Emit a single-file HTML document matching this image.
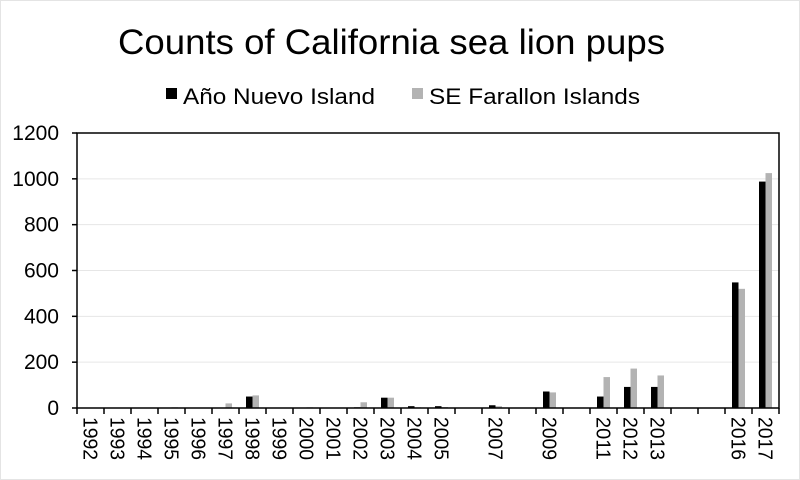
<!DOCTYPE html>
<html><head><meta charset="utf-8"><style>
body{margin:0;background:#fff}
svg{display:block;font-family:"Liberation Sans",Arial,sans-serif}
</style></head><body>
<svg id="chart" width="800" height="480">
<rect x="0.5" y="0.5" width="799" height="479" fill="#fff" stroke="#e4e4e4"/>
<text x="118" y="54" font-size="35" textLength="547" lengthAdjust="spacingAndGlyphs" fill="#000">Counts of California sea lion pups</text>
<g>
<g><rect x="166" y="88" width="11" height="11" fill="#000"/><text x="183" y="104" font-size="22" textLength="192" lengthAdjust="spacingAndGlyphs">Año Nuevo Island</text></g>
<g><rect x="412" y="88" width="11" height="11" fill="#b3b3b3"/><text x="429" y="104" font-size="22" textLength="211" lengthAdjust="spacingAndGlyphs">SE Farallon Islands</text></g>
</g>
<g id="grid"></g>
<g id="bars"></g>
<g id="axes"></g>
</svg>
<script>
const categories=["1992","1993","1994","1995","1996","1997","1998","1999","2000","2001","2002","2003","2004","2005","","2007","","2009","","2011","2012","2013","","","2016","2017"];
const anoNuevo=[0,0,0,0,0,0,50,0,2,0,3,45,8,8,0,12,0,72,0,50,92,92,0,0,548,988];
const farallon=[0,0,0,3,0,20,55,0,3,0,25,45,3,4,0,8,0,68,0,135,172,142,0,0,520,1025];
const yTicks=[0,200,400,600,800,1000,1200];
const NS="http://www.w3.org/2000/svg";
const L=77,R=779,T=133,B=408,yMax=1200;
const cw=(R-L)/categories.length;
function y(v){return B-v/yMax*(B-T);}
function xc(i){return L+cw*(i+0.5);}
function mk(tag,attrs,parent){const e=document.createElementNS(NS,tag);for(const k in attrs)e.setAttribute(k,attrs[k]);parent.appendChild(e);return e;}
const grid=document.getElementById('grid'),bars=document.getElementById('bars'),axes=document.getElementById('axes');
yTicks.forEach(t=>{
  if(t>0&&t<yMax){const g=mk('line',{x1:L,x2:R,y1:y(t),y2:y(t),stroke:'#e6e6e6','stroke-width':1},grid);
  
  }
  const tk=mk('line',{x1:L-5,x2:L,y1:y(t),y2:y(t),stroke:'#000','stroke-width':1.5},axes);
  
  
  const lb=mk('text',{x:L-18,y:y(t)+7,'font-size':21,'text-anchor':'end'},axes);
  lb.textContent=t;
  
  
});
const bw=6.5;
categories.forEach((c,i)=>{
  const a=mk('rect',{x:xc(i)-bw,y:y(anoNuevo[i]),width:bw,height:B-y(anoNuevo[i]),fill:'#000'},bars);
  
  
  const f=mk('rect',{x:xc(i),y:y(farallon[i]),width:bw,height:B-y(farallon[i]),fill:'#b3b3b3'},bars);
  
  
  if(c){const lb=mk('text',{x:0,y:0,'font-size':20,textLength:43,lengthAdjust:'spacingAndGlyphs',transform:'translate('+(xc(i)-7)+',417) rotate(90)'},axes);
  lb.textContent=c;
  
  }
});
for(let i=0;i<=categories.length;i++){
  const t=mk('line',{x1:L+cw*i,x2:L+cw*i,y1:B,y2:B+6,stroke:'#000','stroke-width':1.5},axes);
  
  
}
const frame=mk('rect',{x:L,y:T,width:R-L,height:B-T,fill:'none',stroke:'#000','stroke-width':1.5},axes);


</script>
</body></html>
